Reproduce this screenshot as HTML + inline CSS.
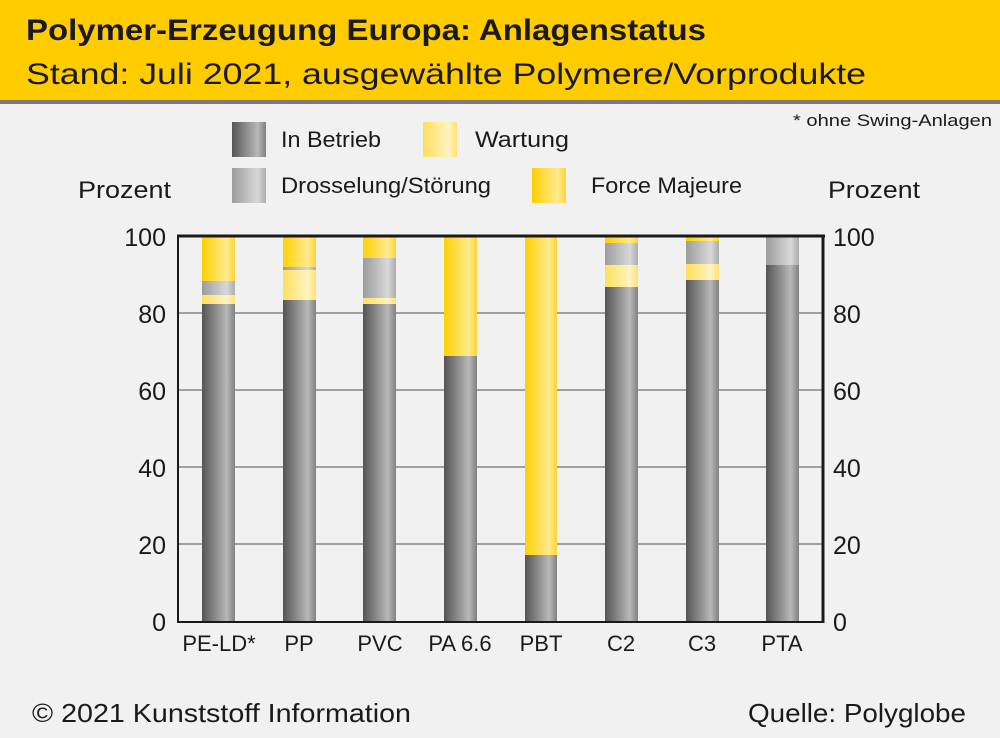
<!DOCTYPE html>
<html><head><meta charset="utf-8"><style>
body{margin:0;background:#f0f1f0;}
svg{display:block;font-family:"Liberation Sans",sans-serif;}
</style></head><body>
<svg width="1000" height="738" viewBox="0 0 1000 738">
<defs>
<linearGradient id="gb" x1="0" x2="1"><stop offset="0" stop-color="#555"/><stop offset="0.75" stop-color="#b8b8b8"/><stop offset="1" stop-color="#808080"/></linearGradient>
<linearGradient id="gd" x1="0" x2="1"><stop offset="0" stop-color="#9c9c9c"/><stop offset="0.75" stop-color="#d8d8d8"/><stop offset="1" stop-color="#acacac"/></linearGradient>
<linearGradient id="gw" x1="0" x2="1"><stop offset="0" stop-color="#ffdf5c"/><stop offset="0.75" stop-color="#fff3c2"/><stop offset="1" stop-color="#ffe170"/></linearGradient>
<linearGradient id="gf" x1="0" x2="1"><stop offset="0" stop-color="#ffd000"/><stop offset="0.75" stop-color="#ffea90"/><stop offset="1" stop-color="#ffd530"/></linearGradient>
</defs>
<rect width="1000" height="738" fill="#f0f1f0"/>
<rect width="1000" height="100" fill="#ffcc00"/>
<rect y="100" width="1000" height="4" fill="#7a7a7a"/>
<text x="26" y="40" font-size="30" font-weight="bold" fill="#1a1a1a" textLength="680" lengthAdjust="spacingAndGlyphs">Polymer-Erzeugung Europa: Anlagenstatus</text>
<text x="26" y="84" font-size="30" fill="#1a1a1a" textLength="840" lengthAdjust="spacingAndGlyphs">Stand: Juli 2021, ausgewählte Polymere/Vorprodukte</text>
<text x="793" y="126" font-size="17" fill="#1a1a1a" textLength="199" lengthAdjust="spacingAndGlyphs">* ohne Swing-Anlagen</text>
<rect x="232" y="122" width="34" height="35" fill="url(#gb)"/>
<text x="281" y="147" font-size="22" fill="#1a1a1a" textLength="100" lengthAdjust="spacingAndGlyphs">In Betrieb</text>
<rect x="423" y="122" width="34" height="35" fill="url(#gw)"/>
<text x="475" y="147" font-size="22" fill="#1a1a1a" textLength="94" lengthAdjust="spacingAndGlyphs">Wartung</text>
<rect x="232" y="168" width="34" height="35" fill="url(#gd)"/>
<text x="281" y="193" font-size="22" fill="#1a1a1a" textLength="210" lengthAdjust="spacingAndGlyphs">Drosselung/Störung</text>
<rect x="532" y="168" width="34" height="35" fill="url(#gf)"/>
<text x="591" y="193" font-size="22" fill="#1a1a1a" textLength="151" lengthAdjust="spacingAndGlyphs">Force Majeure</text>
<text x="78" y="198" font-size="24" fill="#1a1a1a" textLength="93" lengthAdjust="spacingAndGlyphs">Prozent</text>
<text x="828" y="198" font-size="24" fill="#1a1a1a" textLength="92" lengthAdjust="spacingAndGlyphs">Prozent</text>
<g stroke="#a0a0a0" stroke-width="2">
<line x1="178" x2="823" y1="313" y2="313"/><line x1="178" x2="823" y1="390" y2="390"/>
<line x1="178" x2="823" y1="467" y2="467"/><line x1="178" x2="823" y1="544" y2="544"/>
</g>
<g font-size="25" fill="#1a1a1a" text-anchor="end">
<text x="166" y="246">100</text><text x="166" y="323">80</text><text x="166" y="400">60</text><text x="166" y="477">40</text><text x="166" y="554">20</text><text x="166" y="631">0</text>
</g>
<g font-size="25" fill="#1a1a1a">
<text x="833" y="246">100</text><text x="833" y="323">80</text><text x="833" y="400">60</text><text x="833" y="477">40</text><text x="833" y="554">20</text><text x="833" y="631">0</text>
</g>
<g>
<rect x="202" y="236" width="33" height="45" fill="url(#gf)"/><rect x="202" y="281" width="33" height="14" fill="url(#gd)"/><rect x="202" y="295" width="33" height="9" fill="url(#gw)"/><rect x="202" y="304" width="33" height="318" fill="url(#gb)"/>
<rect x="283" y="236" width="33" height="31" fill="url(#gf)"/><rect x="283" y="267" width="33" height="3" fill="url(#gd)"/><rect x="283" y="270" width="33" height="30" fill="url(#gw)"/><rect x="283" y="300" width="33" height="322" fill="url(#gb)"/>
<rect x="363" y="236" width="33" height="22" fill="url(#gf)"/><rect x="363" y="258" width="33" height="40" fill="url(#gd)"/><rect x="363" y="298" width="33" height="6" fill="url(#gw)"/><rect x="363" y="304" width="33" height="318" fill="url(#gb)"/>
<rect x="444" y="236" width="33" height="120" fill="url(#gf)"/><rect x="444" y="356" width="33" height="266" fill="url(#gb)"/>
<rect x="525" y="236" width="32" height="319" fill="url(#gf)"/><rect x="525" y="555" width="32" height="67" fill="url(#gb)"/>
<rect x="605" y="236" width="33" height="7" fill="url(#gf)"/><rect x="605" y="243" width="33" height="22" fill="url(#gd)"/><rect x="605" y="265" width="33" height="22" fill="url(#gw)"/><rect x="605" y="287" width="33" height="335" fill="url(#gb)"/>
<rect x="686" y="236" width="33" height="5" fill="url(#gf)"/><rect x="686" y="241" width="33" height="23" fill="url(#gd)"/><rect x="686" y="264" width="33" height="16" fill="url(#gw)"/><rect x="686" y="280" width="33" height="342" fill="url(#gb)"/>
<rect x="766" y="236" width="33" height="29" fill="url(#gd)"/><rect x="766" y="265" width="33" height="357" fill="url(#gb)"/>
</g>
<line x1="177" x2="825" y1="236" y2="236" stroke="#1a1a1a" stroke-width="3"/>
<line x1="178" x2="178" y1="236" y2="623" stroke="#1a1a1a" stroke-width="2"/>
<line x1="823" x2="823" y1="235" y2="623" stroke="#1a1a1a" stroke-width="3"/>
<line x1="177" x2="824" y1="622" y2="622" stroke="#1a1a1a" stroke-width="2"/>
<g font-size="22" fill="#1a1a1a" text-anchor="middle">
<text x="219" y="651">PE-LD*</text><text x="299" y="651">PP</text><text x="380" y="651">PVC</text><text x="460" y="651">PA 6.6</text><text x="541" y="651">PBT</text><text x="621" y="651">C2</text><text x="702" y="651">C3</text><text x="782" y="651">PTA</text>
</g>
<text x="32" y="722" font-size="26" fill="#1a1a1a" textLength="379" lengthAdjust="spacingAndGlyphs">© 2021 Kunststoff Information</text>
<text x="748" y="722" font-size="26" fill="#1a1a1a" textLength="218" lengthAdjust="spacingAndGlyphs">Quelle: Polyglobe</text>
</svg>
</body></html>
